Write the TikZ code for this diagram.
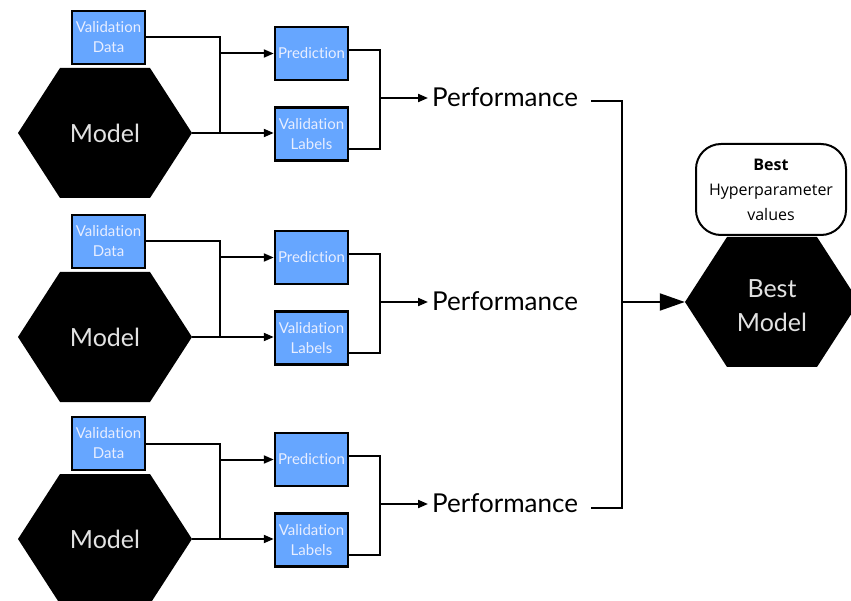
\documentclass[tikz,border=0pt]{standalone}
\usepackage{fontspec}
\setmainfont{Lato}[Ligatures=NoCommon]
\newfontfamily\boxfont{Open Sans}
\usetikzlibrary{arrows.meta,calc}
\definecolor{boxblue}{HTML}{66A6FF}
\definecolor{boxtext}{HTML}{E8EEFF}
\definecolor{hextext}{HTML}{E2E2E2}
\tikzset{
  hexa/.style={minimum width=174pt, minimum height=130pt, inner sep=0pt,
    text=hextext, align=center, font=\fontsize{25}{34}\selectfont,
    path picture={\fill[black]
      (path picture bounding box.west)
      -- ([xshift=42pt]path picture bounding box.north west)
      -- ([xshift=-42pt]path picture bounding box.north east)
      -- (path picture bounding box.east)
      -- ([xshift=-42pt]path picture bounding box.south east)
      -- ([xshift=42pt]path picture bounding box.south west) -- cycle;}},
  hexlabel/.style={text=hextext, align=center, inner sep=0pt,
    font=\fontsize{25}{34}\selectfont},
  bluebox/.style={draw=black, line width=2.5pt, fill=boxblue, text=boxtext,
    minimum width=73pt, minimum height=53pt, inner sep=0pt, align=center,
    font=\fontsize{15}{20}\selectfont},
  perfnode/.style={anchor=west, inner sep=4pt, font=\fontsize{26}{30}\selectfont},
  wire/.style={line width=2pt, line join=miter},
  arr/.style={wire, -{Triangle[length=10pt,width=8pt]}},
  bigarr/.style={wire, -{Triangle[length=25pt,width=17pt]}},
  paramsbox/.style={draw=black, line width=2pt, fill=white, rounded corners=25pt,
    minimum width=150pt, minimum height=91pt, inner sep=0pt, align=center,
    font=\boxfont\fontsize{16}{25}\selectfont}
}
\begin{document}
\begin{tikzpicture}[x=1pt,y=-1pt]
\useasboundingbox (0,0) rectangle (851,601);

% three evaluation rows
\foreach \i/\dy in {1/0,2/204,3/406}{
  \node[bluebox] (vd\i) at (108.5,37.5+\dy) {Validation\\Data};
  \node[hexa] (m\i) at (105,133+\dy) {Model};
  \node[bluebox] (p\i) at (311.5,53.5+\dy) {Prediction};
  \node[bluebox] (l\i) at (311.5,134+\dy) {Validation\\Labels};
  \node[perfnode] (perf\i) at (428,97+\dy) {Performance};
  \coordinate (j\i) at (220,133+\dy);
  \coordinate (r\i) at (380,98+\dy);
  \draw[wire] (vd\i.east) -| (j\i);
  \draw[arr] (m\i.east) -- (m\i.east -| l\i.west);
  \draw[arr] (j\i |- p\i.west) -- (p\i.west);
  \draw[wire] ([yshift=3.5pt]p\i.east) -| (r\i) |- ([yshift=-15pt]l\i.east);
  \draw[arr] (r\i) -- (r\i -| perf\i.west);
}

% selection of the best model
\node[hexa] (best) at (772,302) {};
\node[hexlabel] (bestlabel) at (772,306) {Best\\Model};
\node[paramsbox] (params) at (771,189.5) {\textbf{Best}\\Hyperparameter\\values};

\coordinate (q1) at (591,101);
\coordinate (q3) at (591,508);
\coordinate (bus) at (622,302);
\draw[wire] (q1) -| (bus) |- (q3);
\draw[bigarr] (bus) -- (best.west);
\end{tikzpicture}
\end{document}
